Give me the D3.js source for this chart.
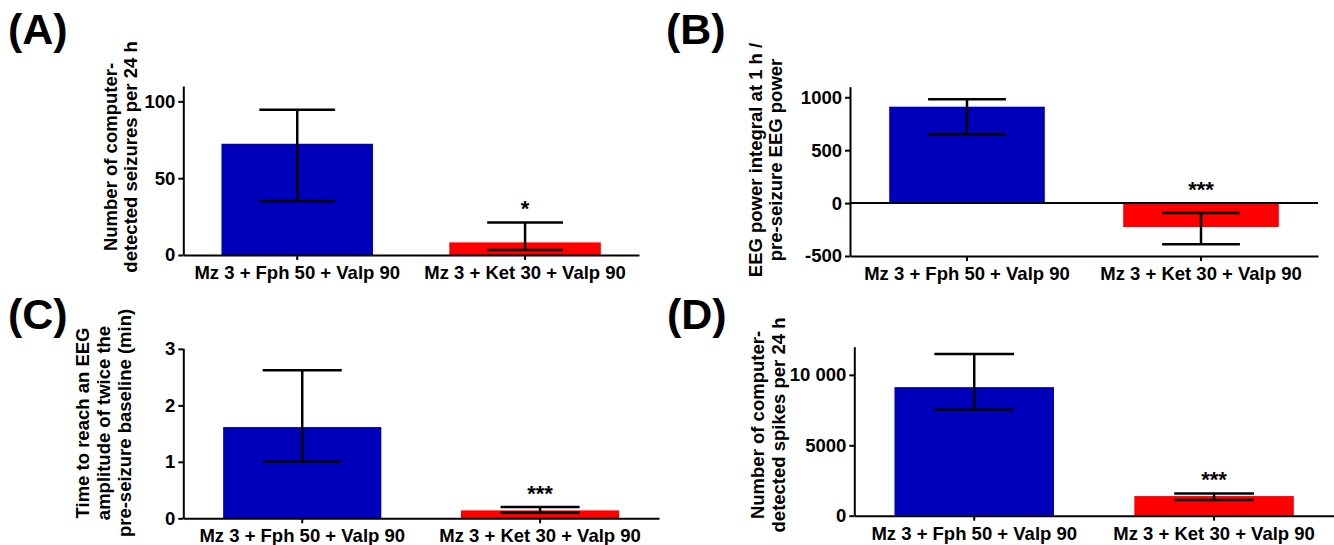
<!DOCTYPE html>
<html lang="en">
<head>
    <meta charset="UTF-8">
    <title>Seizure measures, four panels</title>
    <script src="https://d3js.org/d3.v7.min.js"></script>
    <style>
        body { margin: 0; background: #fff; }
        svg { display: block; font-family: "Liberation Sans", Arial, Helvetica, sans-serif; font-weight: bold; }
        .tick text { font-size: 18.5px; font-weight: bold; fill: #000; }
    </style>
</head>
<body>
    <div id="my_dataviz"></div>
    <script>
        // categories shared by all four panels
        var categories = ["Mz 3 + Fph 50 + Valp 90", "Mz 3 + Ket 30 + Valp 90"];

        // (A) seizures per 24 h
        var seizureMean = [72.4, 8.2];
        var seizureLow = [35.2, 3.2];
        var seizureHigh = [94.6, 21.2];
        var seizureSig = ["", "*"];
        var seizureTicks = [0, 50, 100];

        // (B) EEG power integral
        var powerMean = [911, -226];
        var powerLow = [651, -390];
        var powerHigh = [981, -94];
        var powerSig = ["", "***"];
        var powerTicks = [-500, 0, 500, 1000];

        // (C) time to twice baseline amplitude
        var timeMean = [1.615, 0.14];
        var timeLow = [1.0, 0.1];
        var timeHigh = [2.62, 0.2];
        var timeSig = ["", "***"];
        var timeTicks = [0, 1, 2, 3];

        // (D) spikes per 24 h
        var spikeMean = [9130, 1395];
        var spikeLow = [7525, 1110];
        var spikeHigh = [11485, 1584];
        var spikeSig = ["", "***"];
        var spikeTicks = [0, 5000, 10000];

        var barColors = ["#0000bb", "#ff0000"];

        var svg = d3.select("#my_dataviz")
            .append("svg")
            .attr("width", 1334)
            .attr("height", 545);

        var panels = [
            { letter: "(A)", lx: 8, ly: 44, left: 183.3, right: 639, top: 86, bottom: 255, domain: [0, 110],
              mean: seizureMean, low: seizureLow, high: seizureHigh, sig: seizureSig, ticks: seizureTicks,
              title: ["Number of computer-", "detected seizures per 24 h"], titleX: [110, 130], titleY: 157 },
            { letter: "(B)", lx: 666, ly: 44, left: 850, right: 1318, top: 86.7, bottom: 256, domain: [-500, 1100],
              mean: powerMean, low: powerLow, high: powerHigh, sig: powerSig, ticks: powerTicks, zeroLine: true,
              title: ["EEG power integral at 1 h /", "pre-seizure EEG power"], titleX: [755, 775], titleY: 160 },
            { letter: "(C)", lx: 8, ly: 329, left: 183.3, right: 659, top: 348.3, bottom: 518.3, domain: [0, 3.01],
              mean: timeMean, low: timeLow, high: timeHigh, sig: timeSig, ticks: timeTicks,
              title: ["Time to reach an EEG", "amplitude of twice the", "pre-seizure baseline (min)"], titleX: [82, 103, 124], titleY: 423 },
            { letter: "(D)", lx: 667, ly: 329, left: 854.3, right: 1334, top: 346.7, bottom: 515.7, domain: [0, 12000],
              mean: spikeMean, low: spikeLow, high: spikeHigh, sig: spikeSig, ticks: spikeTicks,
              fmt: function (d) { return d === 10000 ? "10 000" : d; },
              title: ["Number of computer-", "detected spikes per 24 h"], titleX: [757, 778], titleY: 425 }
        ];

        panels.forEach(drawPanel);

        function drawPanel(p) {
            var g = svg.append("g");

            var x = d3.scaleBand()
                .domain(categories)
                .range([p.left, p.right])
                .paddingInner(0.335)
                .paddingOuter(0.1675);
            var y = d3.scaleLinear().domain(p.domain).range([p.bottom, p.top]);

            var rows = categories.map(function (c, i) {
                return { cat: c, mean: p.mean[i], low: p.low[i], high: p.high[i], sig: p.sig[i], color: barColors[i] };
            });

            // bars
            g.selectAll(".bar")
                .data(rows)
                .enter()
                .append("rect")
                .attr("x", function (d) { return x(d.cat); })
                .attr("y", function (d) { return y(Math.max(0, d.mean)); })
                .attr("width", x.bandwidth())
                .attr("height", function (d) { return Math.abs(y(d.mean) - y(0)); })
                .style("fill", function (d) { return d.color; });

            // y axis
            var yAxis = g.append("g")
                .attr("transform", "translate(" + p.left + ",0)")
                .call(d3.axisLeft(y).tickValues(p.ticks).tickSize(5).tickSizeOuter(0).tickPadding(3)
                    .tickFormat(p.fmt || function (d) { return d; }));
            yAxis.selectAll("path, line").style("stroke", "#000").style("stroke-width", 2);

            // x axis
            var xAxis = g.append("g")
                .attr("transform", "translate(0," + p.bottom + ")")
                .call(d3.axisBottom(x).tickSize(5).tickSizeOuter(0).tickPadding(6));
            xAxis.selectAll("path, line").style("stroke", "#000").style("stroke-width", 2);

            // zero line when the axis starts below zero
            if (p.zeroLine) {
                g.append("line")
                    .attr("x1", p.left).attr("x2", p.right)
                    .attr("y1", y(0)).attr("y2", y(0))
                    .style("stroke", "#000").style("stroke-width", 2);
            }

            // error bars
            var err = g.selectAll(".err")
                .data(rows)
                .enter()
                .append("g")
                .attr("transform", function (d) { return "translate(" + (x(d.cat) + x.bandwidth() / 2) + ",0)"; })
                .style("stroke", "#000")
                .style("stroke-width", 2.5);
            var capW = x.bandwidth() * 0.25;
            err.append("line")
                .attr("y1", function (d) { return y(d.low); })
                .attr("y2", function (d) { return y(d.high); });
            err.append("line")
                .attr("x1", -capW).attr("x2", capW)
                .attr("y1", function (d) { return y(d.high); })
                .attr("y2", function (d) { return y(d.high); });
            err.append("line")
                .attr("x1", -capW).attr("x2", capW)
                .attr("y1", function (d) { return y(d.low); })
                .attr("y2", function (d) { return y(d.low); });

            // significance stars
            g.selectAll(".sig")
                .data(rows)
                .enter()
                .append("text")
                .attr("x", function (d) { return x(d.cat) + x.bandwidth() / 2; })
                .attr("y", function (d) { return y(Math.max(0, d.high)) - 18.5 + 12.5; })
                .attr("text-anchor", "middle")
                .style("font-size", "22px")
                .text(function (d) { return d.sig; });

            // y axis title, rotated
            var title = g.append("text")
                .attr("transform", "translate(0," + p.titleY + ") rotate(-90)")
                .attr("text-anchor", "middle")
                .style("font-size", "18.5px");
            p.title.forEach(function (line, i) {
                title.append("tspan")
                    .attr("x", 0)
                    .attr("y", p.titleX[i] + 6.5)
                    .text(line);
            });

            // panel letter
            g.append("text")
                .attr("x", p.lx)
                .attr("y", p.ly)
                .style("font-size", "43px")
                .text(p.letter);
        }
    </script>
</body>
</html>
